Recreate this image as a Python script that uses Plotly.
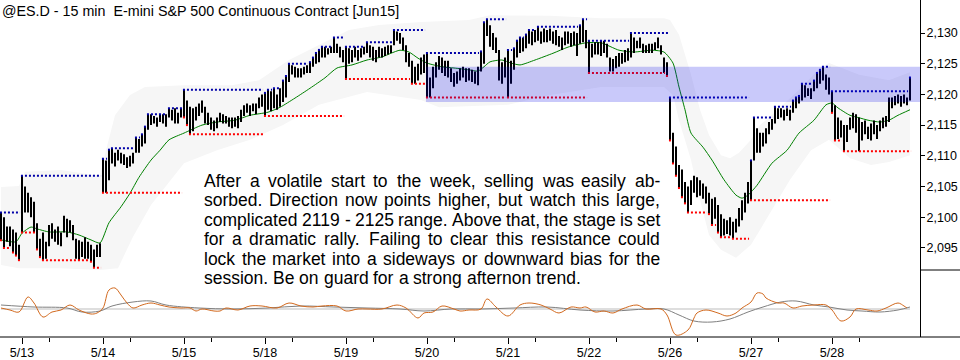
import plotly.graph_objects as go

# ---------------- data ----------------
TITLE = "@ES.D - 15 min\u00a0 E-mini S&amp;P 500 Continuous Contract [Jun15]"
DAY_LABELS = ["5/13", "5/14", "5/15", "5/18", "5/19", "5/20", "5/21", "5/22", "5/26", "5/27", "5/28"]
PRICE_TICKS = [2095, 2100, 2105, 2110, 2115, 2120, 2125, 2130]
ZONE_LOW, ZONE_HIGH = 2118.75, 2124.5

H_0512 = [2100.75, 2100.0, 2098.5, 2098.5, 2098.0, 2097.5, 2095.5]
L_0512 = [2096.25, 2095.0, 2096.0, 2095.25, 2094.25, 2093.75, 2093.0]

H_0513 = [2106.75, 2105.0, 2104.0, 2103.25, 2102.5, 2099.0, 2096.5, 2097.5, 2096.0, 2098.75, 2099.0, 2098.0, 2098.5,
          2097.5, 2100.25, 2099.75, 2099.5, 2098.75, 2096.5, 2096.25, 2096.0, 2096.75, 2096.0, 2095.5, 2094.75, 2095.5, 2095.75]
L_0513 = [2097.5, 2100.75, 2100.75, 2100.0, 2097.5, 2094.75, 2093.5, 2093.0, 2093.25, 2095.25, 2096.5, 2096.0, 2095.5,
          2095.25, 2097.5, 2096.75, 2097.5, 2096.25, 2093.25, 2093.0, 2093.5, 2093.25, 2093.25, 2092.75, 2091.75, 2093.5, 2093.5]

H_0514 = [2109.5, 2109.25, 2111.0, 2111.25, 2110.5, 2111.0, 2110.5, 2110.25, 2109.75, 2110.0, 2110.5, 2113.0, 2112.75,
          2113.5, 2114.75, 2116.75, 2116.75, 2116.5, 2116.25, 2116.75, 2116.75, 2116.75, 2117.75, 2117.5, 2117.75, 2117.0, 2117.75]
L_0514 = [2104.0, 2104.0, 2106.0, 2108.75, 2108.25, 2109.25, 2108.75, 2108.5, 2108.0, 2108.25, 2108.75, 2110.5, 2110.5,
          2111.5, 2112.0, 2114.25, 2115.0, 2115.25, 2114.75, 2115.5, 2115.25, 2114.75, 2116.25, 2115.75, 2115.25, 2115.25, 2116.25]

H_0515 = [2120.75, 2119.0, 2118.0, 2117.75, 2118.0, 2118.5, 2119.0, 2118.0, 2117.0, 2116.25, 2115.75, 2116.25, 2117.0,
          2116.75, 2116.5, 2116.25, 2116.25, 2116.25, 2116.5, 2117.5, 2118.25, 2118.5, 2118.25, 2118.5, 2118.5, 2119.5, 2120.0]
L_0515 = [2116.25, 2115.0, 2113.5, 2114.0, 2115.75, 2116.5, 2117.0, 2115.25, 2115.0, 2114.25, 2114.0, 2114.5, 2115.5,
          2115.25, 2115.25, 2114.75, 2114.5, 2114.75, 2114.5, 2115.5, 2116.5, 2117.0, 2116.5, 2117.25, 2116.75, 2117.75, 2118.0]

H_0518 = [2120.25, 2120.75, 2120.5, 2121.0, 2120.0, 2121.0, 2122.25, 2123.0, 2125.0, 2124.75, 2124.5, 2124.25, 2124.25,
          2124.5, 2124.75, 2125.25, 2126.0, 2126.75, 2127.25, 2127.75, 2127.75, 2127.5, 2127.75, 2129.25, 2128.25, 2127.75, 2127.25]
L_0518 = [2116.5, 2117.5, 2117.25, 2117.75, 2117.5, 2118.0, 2118.75, 2119.5, 2122.0, 2123.25, 2122.75, 2122.75, 2122.75,
          2123.25, 2123.5, 2123.5, 2124.5, 2125.0, 2125.25, 2126.0, 2126.0, 2126.5, 2126.75, 2126.75, 2126.75, 2126.0, 2125.25]

H_0519 = [2127.75, 2127.5, 2127.25, 2127.75, 2127.25, 2127.5, 2127.75, 2128.5, 2128.0, 2127.75, 2127.25, 2127.75, 2127.5,
          2127.75, 2128.0, 2128.0, 2130.5, 2130.25, 2130.0, 2129.25, 2128.0, 2126.75, 2125.5, 2124.5, 2125.0, 2126.0, 2126.5]
L_0519 = [2122.5, 2125.0, 2125.25, 2126.0, 2125.5, 2126.0, 2126.5, 2126.75, 2126.0, 2125.5, 2125.25, 2126.0, 2126.0,
          2126.25, 2126.5, 2126.75, 2128.0, 2128.75, 2128.25, 2127.25, 2125.25, 2124.5, 2121.75, 2121.75, 2122.25, 2123.25, 2123.5]

H_0520 = [2126.75, 2122.75, 2124.5, 2125.25, 2126.25, 2126.0, 2125.5, 2125.5, 2124.25, 2123.5, 2123.75, 2124.25, 2124.5,
          2124.25, 2124.25, 2124.0, 2123.75, 2124.5, 2127.0, 2131.75, 2132.25, 2131.25, 2130.0, 2129.25, 2127.25, 2125.25, 2126.0]
L_0520 = [2119.5, 2119.5, 2121.0, 2122.75, 2124.0, 2123.5, 2123.0, 2122.75, 2122.0, 2121.25, 2121.75, 2122.25, 2122.75,
          2122.0, 2122.25, 2122.0, 2121.75, 2121.5, 2123.75, 2125.0, 2129.5, 2127.75, 2127.25, 2126.75, 2122.25, 2121.75, 2122.75]

H_0521 = [2127.25, 2125.5, 2127.5, 2128.75, 2129.25, 2129.25, 2129.75, 2130.5, 2130.25, 2130.5, 2131.0, 2130.25, 2130.75,
          2130.5, 2130.75, 2130.25, 2130.5, 2129.5, 2129.25, 2130.25, 2130.25, 2130.0, 2130.25, 2130.0, 2131.25, 2132.25, 2130.5]
L_0521 = [2119.5, 2121.75, 2124.0, 2126.0, 2126.75, 2127.0, 2127.5, 2128.25, 2128.0, 2128.5, 2128.75, 2128.25, 2128.5,
          2128.5, 2128.75, 2128.25, 2128.0, 2127.75, 2127.25, 2128.0, 2128.25, 2127.75, 2128.0, 2126.25, 2128.25, 2128.5, 2127.5]

H_0522 = [2128.75, 2128.25, 2128.5, 2128.5, 2128.75, 2128.75, 2128.25, 2126.0, 2125.75, 2126.25, 2126.75, 2126.75, 2127.25,
          2127.5, 2130.0, 2129.25, 2128.75, 2129.25, 2128.25, 2128.0, 2128.25, 2128.25, 2128.5, 2129.25, 2128.0, 2126.0, 2125.25]
L_0522 = [2123.5, 2126.0, 2126.5, 2126.5, 2126.25, 2126.75, 2126.0, 2123.75, 2123.75, 2124.25, 2124.5, 2125.0, 2125.25,
          2125.5, 2126.0, 2126.75, 2127.5, 2127.5, 2126.75, 2126.75, 2126.75, 2126.75, 2127.25, 2127.5, 2126.5, 2123.5, 2123.0]

H_0526 = [2119.5, 2113.75, 2111.5, 2108.5, 2107.75, 2105.75, 2105.0, 2106.0, 2106.75, 2106.5, 2106.0, 2105.5, 2105.0,
          2104.0, 2103.0, 2103.25, 2102.0, 2100.5, 2099.75, 2099.5, 2100.0, 2099.25, 2099.75, 2101.5, 2102.75, 2104.0, 2105.75]
L_0526 = [2112.5, 2108.75, 2106.75, 2104.75, 2103.25, 2102.25, 2100.75, 2102.0, 2104.0, 2103.25, 2103.5, 2103.0, 2102.25,
          2100.5, 2098.75, 2099.75, 2097.5, 2096.75, 2097.0, 2097.25, 2097.0, 2096.5, 2097.5, 2098.5, 2099.5, 2100.75, 2102.25]

H_0527 = [2109.25, 2116.25, 2114.5, 2113.75, 2113.75, 2114.5, 2115.5, 2116.0, 2118.0, 2117.75, 2117.75, 2117.5, 2117.75,
          2117.5, 2119.0, 2119.5, 2119.75, 2121.75, 2121.5, 2121.0, 2121.0, 2122.25, 2123.5, 2124.0, 2124.5, 2123.25, 2122.75]
L_0527 = [2102.75, 2109.25, 2110.5, 2110.5, 2111.5, 2112.0, 2113.5, 2114.25, 2115.25, 2116.0, 2116.25, 2115.75, 2116.5,
          2115.75, 2117.0, 2117.75, 2118.5, 2119.0, 2119.5, 2119.75, 2119.25, 2120.5, 2121.0, 2121.75, 2122.25, 2120.75, 2120.0]

H_0528 = [2120.5, 2118.25, 2116.25, 2115.75, 2115.0, 2115.0, 2116.25, 2117.0, 2116.75, 2116.25, 2115.5, 2115.75, 2114.75,
          2115.25, 2115.75, 2115.0, 2115.75, 2116.25, 2116.5, 2119.5, 2119.5, 2119.75, 2120.0, 2119.75, 2120.0, 2119.5, 2122.75]
L_0528 = [2117.0, 2112.5, 2112.75, 2113.0, 2110.75, 2112.25, 2114.25, 2114.5, 2113.75, 2110.75, 2112.5, 2113.5, 2112.75,
          2112.5, 2113.5, 2112.75, 2114.0, 2114.5, 2114.75, 2115.5, 2117.75, 2118.25, 2118.5, 2118.0, 2118.5, 2118.25, 2119.0]

# moving average (green), sampled at bar positions
MA_X = [0, 5, 7, 10, 12, 16, 22, 26, 30, 33, 36, 40, 43, 46, 50, 53, 56, 61, 67, 72, 78, 83, 89, 93, 98, 103, 108, 112,
        117, 122, 127, 130, 133, 136, 139, 142, 147, 151, 156, 159, 161, 163, 167, 170, 173, 178, 184, 189, 195, 200, 206,
        211, 217, 221, 224, 226, 228, 230, 234, 237, 241, 245, 247, 249, 252, 257, 262, 266, 271, 275, 277, 279, 283, 286,
        289, 293, 296, 299, 303]
MA_Y = [2096.3, 2096.0, 2097.4, 2098.4, 2098.1, 2097.6, 2097.6, 2097.1, 2096.3, 2095.8, 2099.1, 2101.7, 2103.9, 2106.5,
        2109.3, 2110.9, 2112.6, 2113.7, 2115.0, 2115.5, 2115.8, 2116.6, 2117.1, 2117.9, 2119.4, 2121.0, 2122.7, 2124.3,
        2124.8, 2125.6, 2126.1, 2126.7, 2127.2, 2126.9, 2125.9, 2125.1, 2124.5, 2124.3, 2124.0, 2123.8, 2124.5, 2125.3,
        2125.6, 2125.1, 2124.8, 2125.6, 2126.7, 2127.7, 2128.4, 2128.4, 2127.2, 2126.9, 2127.2, 2126.9, 2125.1, 2121.2,
        2117.5, 2113.7, 2111.4, 2109.3, 2106.1, 2103.6, 2103.1, 2103.6, 2105.2, 2108.8, 2110.9, 2113.7, 2115.8, 2118.3,
        2118.6, 2117.8, 2116.6, 2116.2, 2115.8, 2115.5, 2115.8, 2116.6, 2117.5]

# envelope bands (light gray)
UP_X = [0, 6, 8, 20, 33, 35, 38, 43, 48, 61, 77, 86, 96, 106, 116, 126, 140, 156, 163, 183, 200, 221, 223, 226, 230, 233,
        236, 240, 243, 246, 250, 253, 258, 266, 273, 276, 286, 296, 303]
UP_Y = [2104.9, 2105.1, 2107.4, 2107.7, 2106.7, 2110.9, 2116.6, 2119.9, 2121.2, 2121.5, 2121.5, 2122.3, 2125.6, 2128.0,
        2130.5, 2131.3, 2131.8, 2132.1, 2132.9, 2132.8, 2132.4, 2132.4, 2132.1, 2129.7, 2123.2, 2117.5, 2113.4, 2110.1,
        2109.6, 2110.5, 2112.6, 2115.0, 2117.1, 2120.7, 2124.3, 2125.1, 2123.2, 2122.3, 2123.6]
LO_X = [0, 6, 20, 33, 39, 44, 50, 61, 72, 83, 94, 106, 122, 140, 146, 169, 183, 200, 221, 224, 226, 230, 233, 236, 240,
        245, 250, 256, 263, 270, 276, 283, 290, 296, 303]
LO_Y = [2092.2, 2091.7, 2091.7, 2091.4, 2091.7, 2096.8, 2102.0, 2108.8, 2110.9, 2112.6, 2115.0, 2118.3, 2120.4, 2119.1,
        2117.9, 2118.3, 2119.9, 2121.2, 2121.2, 2119.9, 2115.8, 2109.3, 2102.8, 2097.1, 2094.7, 2093.4, 2095.5, 2100.4,
        2106.1, 2110.9, 2112.6, 2109.6, 2108.5, 2109.0, 2110.1]

# lower panel oscillator (orange) and its signal (gray)
OSC_X = [0, 3, 6, 9, 11, 14, 17, 20, 23, 26, 30, 32, 34, 36, 38, 40, 42, 44, 47, 50, 53, 56, 60, 63, 65, 67, 71, 73, 75,
         79, 83, 87, 92, 96, 100, 104, 107, 112, 115, 119, 122, 127, 132, 135, 139, 141, 144, 147, 151, 153, 156, 160,
         162, 165, 169, 173, 176, 180, 183, 186, 190, 193, 195, 198, 201, 204, 207, 212, 215, 220, 222, 225, 229, 231,
         232, 235, 239, 242, 245, 247, 250, 252, 254, 255, 259, 261, 264, 267, 271, 275, 277, 280, 283, 285, 289, 292,
         295, 299, 301, 302]
OSC_Y = [0.2, -0.2, -0.6, 2.4, 1.2, -1.6, -0.6, -0.2, 0.8, -0.2,
         -1.0, -0.8, 0.2, 3.8, 4.2, 2.8, 1.2, 0.2, 0.8, 1.2,
         0.8, 0.4, 0.2, 0.2, -0.4, 0.0, -0.4, -0.4, 0.2, -0.2,
         0.6, 0.6, 0.2, 1.2, 0.6, 0.4, 0.6, 0.6, -0.4, 0.0,
         0.0, 0.0, 0.8, 0.2, -1.8, -0.8, -0.6, 0.6, 0.0, -0.4,
         -0.2, 0.0, 2.0, 0.4, -1.4, 0.8, 1.2, 0.8, 0.0, -0.8,
         0.4, 0.2, 0.4, -0.6, -0.4, -0.8, 0.0, 0.8, 0.0, 0.0,
         -1.2, -5.2, -4.2, -1.8, -0.8, -0.2, -0.8, -1.4, -0.8, 0.2,
         1.4, 3.2, 3.0, 2.2, 1.2, 1.2, 0.2, 0.6, 0.8, 0.8,
         -0.2, -2.4, -1.6, 0.0, -0.2, -0.4, 0.2, 1.2, 0.6, 0.2]
SIG_X = [0, 11, 22, 27, 33, 37, 44, 50, 55, 66, 77, 89, 100, 111, 122, 133, 141, 150, 160, 171, 182, 193, 204, 215, 221,
         226, 231, 237, 243, 249, 254, 260, 265, 271, 276, 282, 287, 293, 299, 303]
SIG_Y = [0.8, 0.4, 0.2, -0.6, -0.4, 0.6, 1.4, 1.6, 0.8, 0.2, 0.0, 0.2, 0.6, 0.4, 0.2, 0.0, -0.4, 0.0, 0.0, 0.2,
         0.4, -0.2, -0.4, 0.0, 0.0, -1.2, -2.4, -2.6, -2.0, -0.6, 0.4, 1.4, 1.6, 0.8, 0.4, -0.2, -0.4, -0.6, -0.2, 0.4]

NOTE_LINES = [
    "After a volatile start to the week, selling was easily ab-",
    "sorbed. Direction now points higher, but watch this large,",
    "complicated 2119 - 2125 range. Above that, the stage is set",
    "for a dramatic rally. Failing to clear this resistance could",
    "lock the market into a sideways or downward bias for the",
    "session. Be on guard for a strong afternon trend.",
]

# ---------------- assembly ----------------
SESSIONS = [(H_0512, L_0512), (H_0513, L_0513), (H_0514, L_0514), (H_0515, L_0515), (H_0518, L_0518),
            (H_0519, L_0519), (H_0520, L_0520), (H_0521, L_0521), (H_0522, L_0522), (H_0526, L_0526),
            (H_0527, L_0527), (H_0528, L_0528)]
highs, lows, starts = [], [], []
for h, l in SESSIONS:
    starts.append(len(highs))
    highs += h
    lows += l
xs = list(range(len(highs)))
tick_idx = starts[1:]
minor_idx = [s + 9 for s in tick_idx]

PLOT_W, PLOT_H = 920.0, 337.0
PRICE_BOTTOM = 270.0
SPLIT = 1 - PRICE_BOTTOM / PLOT_H
PX_PER_PT = 6.14
P_TOP = 2135.375
P_BOT = P_TOP - PRICE_BOTTOM / PX_PER_PT
X_RANGE = [-1 / 3, 306 + 1 / 3]


def pxx(v):
    return v / PLOT_W


def pxy(v):
    return 1 - v / PLOT_H


def running(values, start, better):
    sx, sy = [], []
    cur, s0 = None, start
    for k, v in enumerate(values):
        i = start + k
        if cur is None:
            cur, s0 = v, i
        elif better(v, cur):
            sx += [s0 - 0.35, i - 1 + 0.35, None]
            sy += [cur, cur, None]
            cur, s0 = v, i
    sx += [s0 - 0.35, start + len(values) - 1 + 0.35, None]
    sy += [cur, cur, None]
    return sx, sy


hi_x, hi_y, lo_x, lo_y = [], [], [], []
for (h, l), s in zip(SESSIONS, starts):
    a, b = running(h, s, lambda v, c: v > c)
    hi_x += a; hi_y += b
    a, b = running(l, s, lambda v, c: v < c)
    lo_x += a; lo_y += b

# bars as vertical segments (low -> high)
bar_x, bar_y = [], []
for i, h, l in zip(xs, highs, lows):
    bar_x += [i, i, None]
    bar_y += [l, h, None]

fig = go.Figure()
fig.add_trace(go.Scatter(x=UP_X + LO_X[::-1], y=UP_Y + LO_Y[::-1], fill="toself", fillcolor="#f6f6f6",
                         mode="lines", line=dict(width=0), hoverinfo="skip", xaxis="x", yaxis="y"))
fig.add_trace(go.Scatter(x=MA_X, y=MA_Y, mode="lines", line=dict(color="#008000", width=1, shape="spline", smoothing=0.6),
                         xaxis="x", yaxis="y"))
fig.add_trace(go.Scatter(x=bar_x, y=bar_y, mode="lines", line=dict(color="black", width=2),
                         connectgaps=False, xaxis="x", yaxis="y"))
fig.add_trace(go.Scatter(x=hi_x, y=hi_y, mode="lines", line=dict(color="#0000a8", width=2, dash="2px,2px"),
                         connectgaps=False, xaxis="x", yaxis="y"))
fig.add_trace(go.Scatter(x=lo_x, y=lo_y, mode="lines", line=dict(color="#ff0000", width=2, dash="2px,2px"),
                         connectgaps=False, xaxis="x", yaxis="y"))
# oscillator
fig.add_trace(go.Scatter(x=[xs[0], xs[-1]], y=[0, 0], mode="lines", line=dict(color="#bdbdbd", width=1),
                         xaxis="x", yaxis="y2"))
fig.add_trace(go.Scatter(x=SIG_X, y=SIG_Y, mode="lines", line=dict(color="#808080", width=1, shape="spline"),
                         xaxis="x", yaxis="y2"))
fig.add_trace(go.Scatter(x=OSC_X, y=OSC_Y, mode="lines", line=dict(color="#d2691e", width=1, shape="spline"),
                         xaxis="x", yaxis="y2"))

shapes = [
    dict(type="rect", xref="x", yref="y", x0=starts[6] - 0.35, x1=X_RANGE[1], y0=ZONE_LOW, y1=ZONE_HIGH,
         fillcolor="rgba(0,0,230,0.21)", line=dict(width=0), layer="above"),
    dict(type="line", xref="paper", yref="paper", x0=0, x1=960 / PLOT_W, y0=0, y1=0,
         line=dict(color="black", width=1)),
    dict(type="line", xref="paper", yref="paper", x0=1, x1=960 / PLOT_W, y0=SPLIT, y1=SPLIT,
         line=dict(color="black", width=1)),
]

# justified note text, Arial/Liberation Sans advance widths (1/1000 em)
ARIAL = {" ": 278, ",": 278, "-": 333, ".": 278, "0": 556, "1": 556, "2": 556, "3": 556, "4": 556, "5": 556,
         "6": 556, "7": 556, "8": 556, "9": 556, "A": 667, "B": 667, "C": 722, "D": 722, "E": 667, "F": 611,
         "G": 778, "H": 722, "I": 278, "J": 500, "K": 667, "L": 556, "M": 833, "N": 722, "O": 778, "P": 667,
         "Q": 778, "R": 722, "S": 667, "T": 611, "U": 722, "V": 667, "W": 944, "X": 667, "Y": 667, "Z": 611,
         "a": 556, "b": 556, "c": 500, "d": 556, "e": 556, "f": 278, "g": 556, "h": 556, "i": 222, "j": 222,
         "k": 500, "l": 222, "m": 833, "n": 556, "o": 556, "p": 556, "q": 556, "r": 333, "s": 500, "t": 278,
         "u": 556, "v": 500, "w": 722, "x": 500, "y": 500, "z": 500}
NOTE_SIZE = 17.5
NOTE_LEFT, NOTE_RIGHT = 204.0, 660.0
NOTE_Y0, NOTE_STEP = 181.0, 19.4


def tw(s):
    return sum(ARIAL.get(c, 556) for c in s) * NOTE_SIZE / 1000.0


annotations = [dict(x=pxx(2), y=pxy(10.5), xref="paper", yref="paper", xanchor="left", yanchor="middle",
                    text=TITLE, showarrow=False, borderpad=0, borderwidth=0,
                    font=dict(family="Liberation Sans, Arial", size=14.3, color="black"))]
for li, line in enumerate(NOTE_LINES):
    words = line.split(" ")
    yc = NOTE_Y0 + li * NOTE_STEP
    widths = [tw(w) for w in words]
    if li < len(NOTE_LINES) - 1:
        gap = (NOTE_RIGHT - NOTE_LEFT - sum(widths)) / (len(words) - 1)
    else:
        gap = tw(" ")
    xpos = NOTE_LEFT
    for w, wd in zip(words, widths):
        annotations.append(dict(x=pxx(xpos), y=pxy(yc), xref="paper", yref="paper", xanchor="left",
                                yanchor="middle", text=w, showarrow=False, borderpad=0, borderwidth=0,
                                font=dict(family="Liberation Sans, Arial", size=NOTE_SIZE, color="black")))
        xpos += wd + gap

tickfont = dict(family="Liberation Sans, Arial", size=12.5, color="black")
fig.update_layout(
    width=960, height=360,
    margin=dict(l=0, r=40, t=0, b=23, pad=0, autoexpand=False),
    paper_bgcolor="white", plot_bgcolor="white", showlegend=False,
    xaxis=dict(range=X_RANGE, anchor="y2", tickmode="array", tickvals=tick_idx, ticktext=DAY_LABELS,
               ticks="outside", ticklen=6, tickcolor="black", tickwidth=1, tickfont=tickfont,
               showgrid=False, zeroline=False, showline=False, automargin=False, ticklabelstandoff=-2,
               minor=dict(tickvals=minor_idx, ticks="outside", ticklen=4, tickcolor="black", tickwidth=1, showgrid=False)),
    yaxis=dict(domain=[SPLIT, 1], range=[P_BOT, P_TOP], side="right", anchor="x", showline=True, linecolor="black",
               linewidth=1, ticks="outside", ticklen=4, tickcolor="black", tickmode="array", tickvals=PRICE_TICKS,
               ticktext=[f"{v:,}" for v in PRICE_TICKS], tickfont=tickfont, showgrid=False, zeroline=False,
               automargin=False, ticklabelstandoff=-1),
    yaxis2=dict(domain=[0, SPLIT], range=[-5.6, 7.8], side="right", anchor="x", showline=True, linecolor="black",
                linewidth=1, showticklabels=False, ticks="", showgrid=False, zeroline=False, automargin=False),
    shapes=shapes,
    annotations=annotations,
)

fig.write_html("out.html", config={"displayModeBar": False},
               post_script="document.body.style.margin='0px';document.body.style.padding='0px';")
